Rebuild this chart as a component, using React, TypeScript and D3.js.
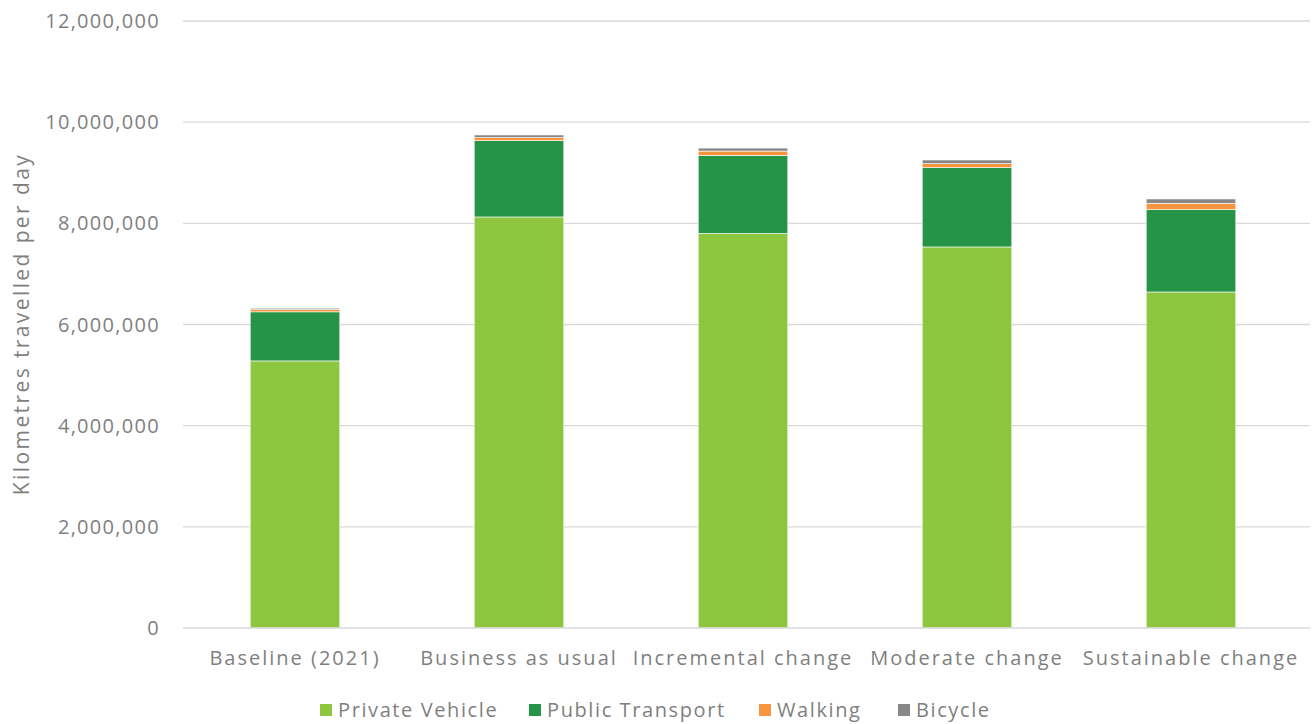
import React from "react";
import * as d3 from "d3";

const categories = ["Baseline (2021)", "Business as usual", "Incremental change", "Moderate change", "Sustainable change"];
const privateVehicle = [5280000, 8126000, 7800000, 7533000, 6643000];
const publicTransport = [970000, 1508000, 1545000, 1567000, 1627000];
const walking = [45000, 60000, 84000, 79000, 127000];
const bicycle = [27000, 53000, 59000, 73000, 85000];
const seriesNames = ["Private Vehicle", "Public Transport", "Walking", "Bicycle"];
const seriesColors = ["#8DC63F", "#259447", "#F7953E", "#878787"];
const yTicks = [0, 2000000, 4000000, 6000000, 8000000, 10000000, 12000000];

const W = 1314, H = 724;
const left = 183, right = 1303, top = 21, bottom = 628;
const font = "'Open Sans', sans-serif";
const textColor = "#7F7F7F";

export default function App() {
  const x = d3.scaleBand<string>().domain(categories).range([left, right]).paddingInner(0.6).paddingOuter(0.3);
  const y = d3.scaleLinear().domain([0, 12000000]).range([bottom, top]);
  const rows = categories.map((c, i) => ({
    cat: c,
    "Private Vehicle": privateVehicle[i],
    "Public Transport": publicTransport[i],
    Walking: walking[i],
    Bicycle: bicycle[i],
  }));
  const stacked = d3.stack<any>().keys(seriesNames)(rows);
  const fmt = d3.format(",");
  const legendX = [320, 529, 759, 898];

  return (
    <svg width={W} height={H} style={{ position: "absolute", left: 0, top: 0 }} fontFamily={font}>
      <rect width={W} height={H} fill="#fff" />
      {yTicks.map((t) => (
        <g key={t}>
          {t > 0 && <line x1={left} x2={1310} y1={y(t)} y2={y(t)} stroke="#D9D9D9" strokeWidth={1.3} />}
          <text x={160} y={y(t)} dy="0.35em" textAnchor="end" fontSize={20} letterSpacing={1.3} fill={textColor}>{fmt(t)}</text>
        </g>
      ))}
      {stacked.map((s, si) => (
        <g key={s.key}>
          {s.map((d, i) => (
            <rect key={i} x={x(categories[i])!} width={x.bandwidth()} y={y(d[1])} height={y(d[0]) - y(d[1])}
              fill={seriesColors[si]} stroke="#fff" strokeWidth={0.6} />
          ))}
        </g>
      ))}
      <line x1={left} x2={1310} y1={bottom} y2={bottom} stroke="#D9D9D9" strokeWidth={1.3} />
      {categories.map((c) => (
        <text key={c} x={x(c)! + x.bandwidth() / 2} y={658} dy="0.35em" textAnchor="middle" fontSize={20} letterSpacing={2.0} fill={textColor}>{c}</text>
      ))}
      <text transform={`translate(22,324) rotate(-90)`} textAnchor="middle" dy="0.35em" fontSize={21} letterSpacing={2.4} fill={textColor}>Kilometres travelled per day</text>
      {seriesNames.map((n, i) => (
        <g key={n}>
          <rect x={legendX[i]} y={704} width={12} height={12} fill={seriesColors[i]} />
          <text x={legendX[i] + 18} y={710} dy="0.35em" fontSize={20} letterSpacing={1.6} fill={textColor}>{n}</text>
        </g>
      ))}
    </svg>
  );
}
